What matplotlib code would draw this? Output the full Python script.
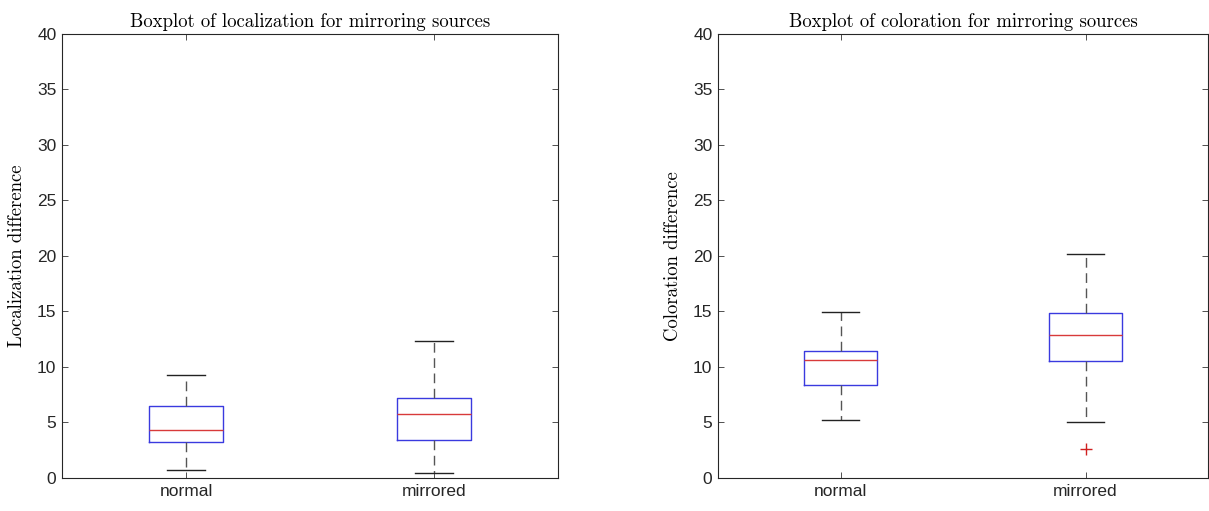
import matplotlib
matplotlib.use("Agg")
import matplotlib.pyplot as plt

# category names
categories = ["normal", "mirrored"]

# box statistics: [lower whisker, Q1, median, Q3, upper whisker]
loc_normal = [0.69, 3.24, 4.32, 6.49, 9.28]
loc_mirrored = [0.45, 3.39, 5.77, 7.23, 12.34]
col_normal = [5.23, 8.38, 10.6, 11.41, 14.98]
col_mirrored = [5.07, 10.54, 12.85, 14.86, 20.15]

# outliers
loc_outliers = [[], []]
col_outliers = [[], [2.64]]

yticks = [0, 5, 10, 15, 20, 25, 30, 35, 40]

serif = {"family": "cmr10", "size": 13.5}
sans = "Liberation Sans"


def make_stats(rows, outliers):
    stats = []
    for name, r, fl in zip(categories, rows, outliers):
        stats.append({"label": name, "whislo": r[0], "q1": r[1], "med": r[2],
                      "q3": r[3], "whishi": r[4], "fliers": fl})
    return stats


def draw(ax, rows, outliers, title, ylabel):
    ax.bxp(make_stats(rows, outliers), positions=[1, 2], widths=0.3,
           boxprops=dict(color="#3a3adf", linewidth=1.0),
           medianprops=dict(color="#d83a3a", linewidth=1.0),
           whiskerprops=dict(color="#555555", linewidth=1.0, linestyle=(0, (7, 4))),
           capprops=dict(color="#222222", linewidth=1.0),
           flierprops=dict(marker="+", markeredgecolor="#d02020", markersize=9,
                           linestyle="none"))
    ax.set_xlim(0.5, 2.5)
    ax.set_ylim(0, 40)
    ax.set_yticks(yticks)
    ax.set_xticks([1, 2])
    ax.set_xticklabels(categories, fontfamily=sans, fontsize=12.5)
    for t in ax.get_yticklabels():
        t.set_fontfamily(sans)
        t.set_fontsize(12.5)
    ax.tick_params(direction="in", top=True, right=True, length=4, width=0.6,
                   color="#333333", labelcolor="#262626", pad=4)
    for s in ax.spines.values():
        s.set_color("#262626")
        s.set_linewidth(0.8)
    ax.set_title(title, fontdict=serif, pad=5)
    ax.set_ylabel(ylabel, fontdict=serif, labelpad=8)


fig = plt.figure(figsize=(12.09, 5.11), dpi=100)
ax1 = fig.add_axes([0.0513, 0.0646, 0.4103, 0.8689])
ax2 = fig.add_axes([0.5939, 0.0646, 0.4053, 0.8689])

draw(ax1, [loc_normal, loc_mirrored], loc_outliers,
     "Boxplot of localization for mirroring sources", "Localization difference")
draw(ax2, [col_normal, col_mirrored], col_outliers,
     "Boxplot of coloration for mirroring sources", "Coloration difference")

fig.savefig("out.png", dpi=100)
